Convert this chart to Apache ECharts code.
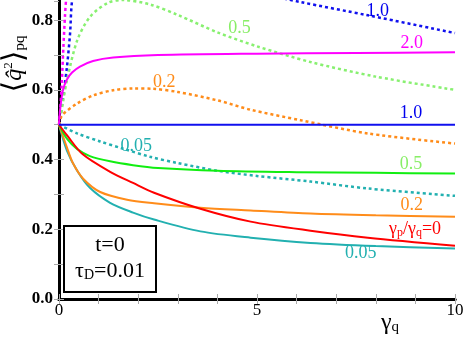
<!DOCTYPE html>
<html>
<head>
<meta charset="utf-8">
<script src="https://cdn.jsdelivr.net/npm/echarts@6/dist/echarts.min.js"></script>
<style>
html, body { margin: 0; padding: 0; background: #fff; }
#chart { width: 463px; height: 339px; }
</style>
</head>
<body>
<div id="chart"></div>
<script>
// solid curves (gamma_p/gamma_q ratio), [gamma_q, <q^2>]
var solid10 = [[0, 0.5], [10, 0.5]];
var solid20 = [[0, 0.5], [0.025, 0.54], [0.1, 0.6], [0.2, 0.63], [0.33, 0.65], [0.53, 0.667], [0.86, 0.683], [1.37, 0.693], [2.5, 0.7], [5, 0.704], [7.5, 0.706], [10, 0.708]];
var solid05 = [[0, 0.5], [0.2, 0.46], [0.46, 0.43], [0.78, 0.41], [1.29, 0.395], [1.87, 0.384], [2.5, 0.376], [4, 0.368], [6, 0.364], [8, 0.362], [10, 0.36]];
var solid02 = [[0, 0.5], [0.2, 0.435], [0.35, 0.39], [0.61, 0.345], [1.04, 0.307], [1.72, 0.285], [2.4, 0.275], [3.57, 0.262], [4.84, 0.254], [6.35, 0.245], [8, 0.24], [10, 0.236]];
var solid005 = [[0, 0.5], [0.2, 0.426], [0.46, 0.368], [0.78, 0.319], [1.29, 0.276], [1.87, 0.248], [2.4, 0.228], [3.57, 0.194], [4.84, 0.176], [6.35, 0.161], [8, 0.152], [10, 0.145]];
var solid0 = [[0, 0.5], [0.2, 0.47], [0.6, 0.415], [1.29, 0.365], [1.87, 0.333], [2.4, 0.305], [3.57, 0.259], [4.84, 0.222], [6.35, 0.196], [7.8, 0.176], [10, 0.153]];

// dotted curves
var dot20 = [[0, 0.5], [0.03, 0.54], [0.07, 0.62], [0.11, 0.72], [0.15, 0.81], [0.18, 0.86], [0.3, 1.0], [1, 1.3]];
var dot10 = [[0, 0.5], [0.03, 0.52], [0.1, 0.578], [0.2, 0.665], [0.28, 0.763], [0.33, 0.855], [0.5, 0.95], [1, 1.0], [2, 0.99], [3, 0.95], [4, 0.915], [5, 0.88], [6.1, 0.852], [7.8, 0.814], [10, 0.763]];
var dot05 = [[0, 0.5], [0.05, 0.53], [0.1, 0.565], [0.2, 0.627], [0.46, 0.742], [0.78, 0.809], [1.22, 0.849], [1.6, 0.858], [2.3, 0.845], [3, 0.815], [4, 0.765], [5, 0.725], [6.35, 0.68], [8, 0.638], [10, 0.6]];
var dot02 = [[0, 0.5], [0.08, 0.527], [0.46, 0.561], [0.86, 0.584], [1.37, 0.599], [1.87, 0.604], [2.38, 0.603], [3, 0.594], [4, 0.57], [4.84, 0.543], [6.1, 0.513], [7.8, 0.475], [10, 0.446]];
var dot005 = [[0, 0.5], [0.46, 0.475], [1.04, 0.452], [1.6, 0.432], [2.3, 0.408], [3, 0.39], [4, 0.368], [5, 0.353], [6.35, 0.337], [7.8, 0.317], [10, 0.296]];

// curve labels: text, x, y (data coords), colour
var curveLabels = [
  ['1.0', 8.05, 0.826, '#0000ee'],
  ['2.0', 8.91, 0.734, '#ff00ff'],
  ['0.5', 4.56, 0.777, '#88ee66'],
  ['0.2', 2.66, 0.622, '#ff8c1a'],
  ['1.0', 8.89, 0.532, '#0000ee'],
  ['0.05', 1.95, 0.437, '#22b0b0'],
  ['0.5', 8.89, 0.388, '#88ee66'],
  ['0.2', 8.91, 0.268, '#ff8c1a'],
  ['0.05', 7.62, 0.132, '#22b0b0']
];

var SERIF = "'Liberation Serif', 'Times New Roman', serif";
var chart = echarts.init(document.getElementById('chart'));

function line(data, color, dotted, width) {
  return {
    type: 'line',
    data: data,
    smooth: 0.3,
    showSymbol: false,
    clip: true,
    lineStyle: {
      color: color,
      width: width || 2,
      type: dotted ? [3, 3] : 'solid'
    }
  };
}

function frameAxis(pos) {
  return {
    position: pos,
    axisLine: { show: true, lineStyle: { color: '#000', width: 3 } },
    axisTick: { show: true, inside: true, length: 5, lineStyle: { color: '#aaa', width: 1 } },
    axisLabel: { show: false },
    splitLine: { show: false }
  };
}

var xBottom = Object.assign(frameAxis('bottom'), {
  type: 'value', min: 0, max: 10, interval: 1,
  axisLabel: {
    show: true, margin: 3, color: '#000', fontFamily: SERIF, fontSize: 17,
    formatter: function (v) { return v % 5 === 0 ? String(v) : ''; }
  }
});
var xTop = Object.assign(frameAxis('top'), { type: 'value', min: 0, max: 10, interval: 1 });
var yLeft = Object.assign(frameAxis('left'), {
  type: 'value', min: 0, max: 0.855, interval: 0.1,
  axisLabel: {
    show: true, margin: 6, color: '#000', fontFamily: SERIF, fontSize: 17, fontWeight: 'bold',
    showMaxLabel: false,
    formatter: function (v) { return Math.round(v * 10) % 2 === 0 ? v.toFixed(1) : ''; }
  }
});
var yRight = Object.assign(frameAxis('right'), { type: 'value', min: 0, max: 0.855, interval: 0.1 });

chart.setOption({
  animation: false,
  grid: { left: 59, right: 8, top: 1, bottom: 40, outerBoundsMode: 'none' },
  xAxis: [xBottom, xTop],
  yAxis: [yLeft, yRight],
  series: [
    line(dot20, '#ff00ff', true, 2.5),
    line(dot10, '#1010ee', true, 2.5),
    line(dot05, '#88f070', true, 2.5),
    line(dot02, '#ff8c1a', true, 2.5),
    line(dot005, '#22b0b0', true, 2.5),
    line(solid005, '#22b0b0', false),
    line(solid02, '#ff8c1a', false),
    line(solid05, '#11ee11', false),
    line(solid0, '#ff0000', false),
    line(solid20, '#ff00ff', false),
    line(solid10, '#1010ee', false)
  ]
});

function tok(size, color, extra) {
  return Object.assign({ fontFamily: SERIF, fontSize: size, lineHeight: size, fill: color }, extra || {});
}
function subTok(size, color) {
  return tok(size, color, { lineHeight: 4, verticalAlign: 'bottom' });
}

var graphics = curveLabels.map(function (l) {
  var p = chart.convertToPixel({ gridIndex: 0 }, [l[1], l[2]]);
  return {
    type: 'text', x: p[0], y: p[1], z: 100,
    style: { text: l[0], fill: l[3], fontFamily: SERIF, fontSize: 18, align: 'center', verticalAlign: 'middle' }
  };
});
var redPos = chart.convertToPixel({ gridIndex: 0 }, [8.99, 0.199]);
graphics.push({
  type: 'text', x: redPos[0], y: redPos[1], z: 100,
  style: {
    text: '{m|γ}{s|p}{m|/γ}{s|q}{m|=0}', fontFamily: SERIF, fontSize: 18, fill: '#ff0000', align: 'center', verticalAlign: 'middle',
    rich: { m: tok(18, '#ff0000'), s: subTok(12, '#ff0000') }
  }
});
// info box
graphics.push({
  type: 'rect', z: 100, shape: { x: 64, y: 226, width: 92, height: 66 },
  style: { fill: '#fff', stroke: '#000', lineWidth: 2 }
});
graphics.push({
  type: 'text', x: 110, y: 245, z: 101,
  style: { text: 't=0', fontFamily: SERIF, fontSize: 22, fill: '#000', align: 'center', verticalAlign: 'middle' }
});
graphics.push({
  type: 'text', x: 110, y: 271, z: 101,
  style: {
    text: '{m|τ}{s|D}{m|=0.01}', fontFamily: SERIF, fontSize: 22, align: 'center', verticalAlign: 'middle',
    rich: { m: tok(22, '#000'), s: subTok(14, '#000') }
  }
});
// axis names
graphics.push({
  type: 'text', x: 390, y: 323, z: 101,
  style: {
    text: '{m|γ}{s|q}', fontFamily: SERIF, fontSize: 22, align: 'center', verticalAlign: 'middle',
    rich: { m: tok(24, '#000'), s: subTok(15, '#000') }
  }
});
graphics.push({
  type: 'text', x: 15, y: 64, z: 101, rotation: Math.PI / 2,
  style: {
    text: '{b|⟨}{q|q\u0302}{p|2}{b|⟩}{s|pq}', fontFamily: SERIF, fontSize: 22, align: 'center', verticalAlign: 'middle',
    rich: {
      b: { fontFamily: 'DejaVu Serif', fontSize: 30, lineHeight: 26, fill: '#000', fontWeight: 'lighter' },
      q: tok(24, '#000', { fontStyle: 'italic', lineHeight: 26 }),
      p: tok(13, '#000', { lineHeight: 4, verticalAlign: 'top' }),
      s: tok(15, '#000', { lineHeight: 4, verticalAlign: 'bottom' })
    }
  }
});
chart.setOption({ graphic: graphics });
</script>
</body>
</html>
